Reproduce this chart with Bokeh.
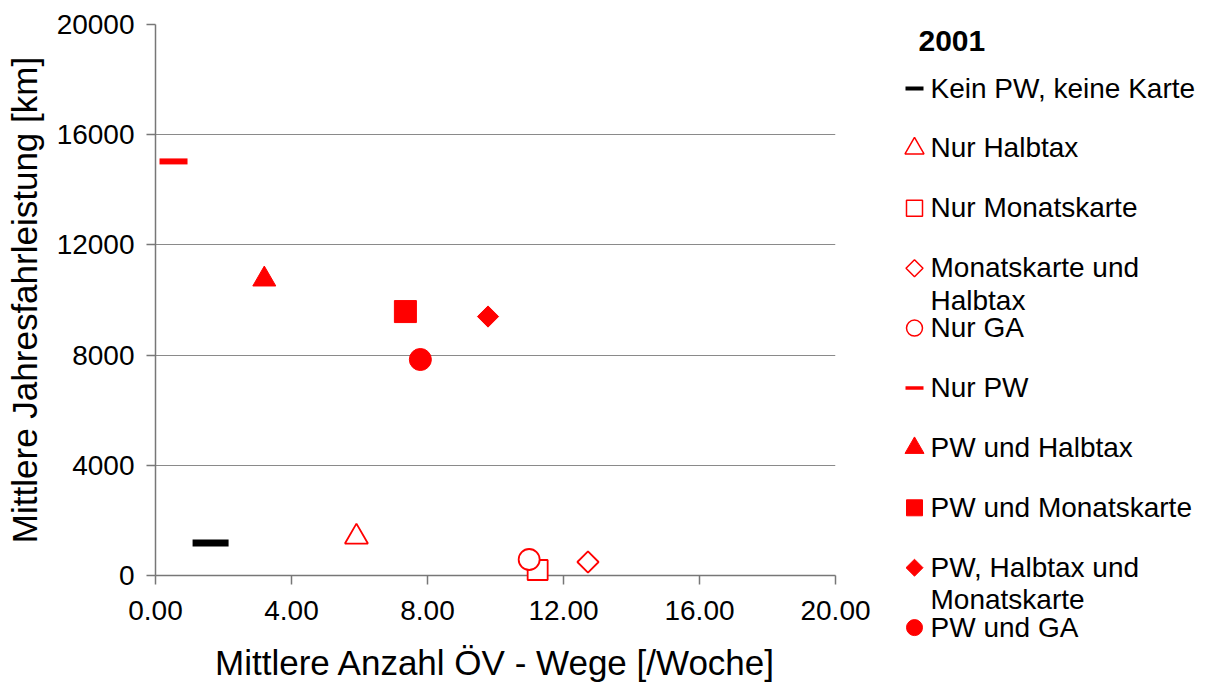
import math
from bokeh.plotting import figure
from bokeh.models import Range1d, FixedTicker, NumeralTickFormatter, ColumnDataSource
from bokeh.layouts import row, column
from bokeh.core.properties import value
from bokeh.embed import file_html
from bokeh.resources import INLINE

# ---------------- data ----------------
categories = [
    "Kein PW, keine Karte",
    "Nur Halbtax",
    "Nur Monatskarte",
    "Monatskarte und\nHalbtax",
    "Nur GA",
    "Nur PW",
    "PW und Halbtax",
    "PW und Monatskarte",
    "PW, Halbtax und\nMonatskarte",
    "PW und GA",
]
oev_wege = [1.62, 5.91, 11.24, 12.72, 10.99, 0.53, 3.20, 7.35, 9.78, 7.79]
fahrleistung = [1180, 1400, 200, 490, 580, 15030, 10750, 9580, 9400, 7840]
x_ticks = [0, 4, 8, 12, 16, 20]
y_ticks = [0, 4000, 8000, 12000, 16000, 20000]
legend_title = "2001"

# ---------------- styles ----------------
RED = "#FF0000"
markers = ["dash", "triangle", "square", "square", "circle", "dash", "triangle", "square", "square", "circle"]
angles = [0, 0, 0, math.pi / 4, 0, 0, 0, 0, math.pi / 4, 0]
fills = [None, "white", "white", "white", "white", None, RED, RED, RED, RED]
lines = ["black", RED, RED, RED, RED, RED, RED, RED, RED, RED]
sizes = [36, 23, 20, 15, 21, 28, 23, 22, 15, 22]
lwidths = [7, 1.8, 1.8, 1.8, 1.8, 6, 1, 1, 1, 1]
lg_sizes = [18, 19, 16, 12, 16, 18, 19, 16, 12, 16]
lg_lwidths = [4, 1.5, 1.5, 1.5, 1.5, 3.5, 1, 1, 1, 1]

FONT = "Liberation Sans"

src = ColumnDataSource(dict(
    x=oev_wege, y=fahrleistung, marker=markers, angle=angles,
    fill=[f if f is not None else "rgba(0,0,0,0)" for f in fills],
    line=lines, size=sizes, lw=lwidths,
))

p = figure(width=890, height=684, output_backend="svg", toolbar_location=None,
           x_range=Range1d(0, 20), y_range=Range1d(0, 20000),
           min_border_left=155, min_border_right=55, min_border_top=24, min_border_bottom=109)
p.outline_line_color = None
p.background_fill_color = "white"
p.border_fill_color = "white"

p.xgrid.visible = False
p.ygrid.ticker = FixedTicker(ticks=y_ticks)
p.ygrid.grid_line_color = "#8a8a8a"
p.ygrid.grid_line_width = 1

p.xaxis.ticker = FixedTicker(ticks=x_ticks)
p.yaxis.ticker = FixedTicker(ticks=y_ticks)
p.xaxis.formatter = NumeralTickFormatter(format="0.00")
p.yaxis.formatter = NumeralTickFormatter(format="0")
p.xaxis.axis_label = "Mittlere Anzahl ÖV - Wege [/Woche]"
p.yaxis.axis_label = "Mittlere Jahresfahrleistung [km]"
for ax in (p.xaxis, p.yaxis):
    ax.axis_line_color = "#777777"
    ax.axis_line_width = 1.5
    ax.major_tick_line_color = "#777777"
    ax.major_tick_line_width = 1.5
    ax.major_tick_in = 0
    ax.major_tick_out = 9
    ax.minor_tick_line_color = None
    ax.major_label_text_font = FONT
    ax.major_label_text_font_size = "28px"
    ax.major_label_text_color = "black"
    ax.axis_label_text_font = FONT
    ax.axis_label_text_font_size = "35px"
    ax.axis_label_text_font_style = "normal"
    ax.axis_label_text_color = "black"
p.xaxis.major_label_standoff = 16
p.yaxis.major_label_standoff = 12
p.xaxis.axis_label_standoff = 20
p.yaxis.axis_label_standoff = 10

p.scatter(x="x", y="y", marker="marker", angle="angle", size="size",
          fill_color="fill", line_color="line", line_width="lw", source=src,
          level="overlay")

# ---------------- legend panel ----------------
lg = figure(width=316, height=684, output_backend="svg", toolbar_location=None,
            x_range=Range1d(0, 316), y_range=Range1d(684, 0),
            x_axis_type=None, y_axis_type=None, min_border=0)
lg.outline_line_color = None
lg.xgrid.visible = False
lg.ygrid.visible = False

step = 59.9
item_y = [88 + step * i for i in range(len(categories))]
lsrc = ColumnDataSource(dict(
    x=[24] * len(categories), y=item_y, marker=markers, angle=angles,
    fill=[f if f is not None else "rgba(0,0,0,0)" for f in fills],
    line=lines, size=lg_sizes, lw=lg_lwidths,
    tx=[40] * len(categories), ty=[v - 16 for v in item_y], text=categories,
))
lg.scatter(x="x", y="y", marker="marker", angle="angle", size="size",
           fill_color="fill", line_color="line", line_width="lw", source=lsrc)
lg.text(x="tx", y="ty", text="text", source=lsrc, text_font=value(FONT),
        text_font_size="28px", text_baseline="top", text_align="left",
        text_color="black", text_line_height=1.05)
lg.text(x=[28], y=[40], text=[legend_title], text_font=value(FONT),
        text_font_size="30px", text_font_style="bold", text_baseline="middle",
        text_color="black")

layout = row(p, column(lg))
open("out.html", "w").write(file_html(layout, INLINE))
